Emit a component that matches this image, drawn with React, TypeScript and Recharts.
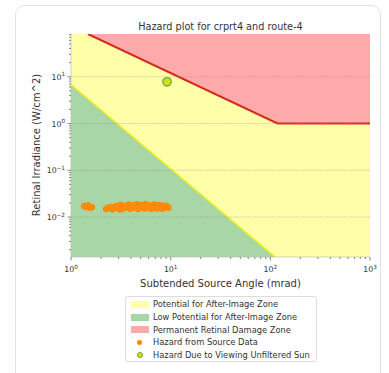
import React from 'react';
import { ComposedChart, XAxis, YAxis, Area, Scatter, ReferenceArea, ReferenceLine } from 'recharts';

// ---------- data ----------
const X_MIN = 1;
const X_MAX = 1000;
const Y_MIN = 0.0014;
const Y_MAX = 82;

const xMajorTicks = [1, 10, 100, 1000];
const xMinorTicks = [2, 3, 4, 5, 6, 7, 8, 9, 20, 30, 40, 50, 60, 70, 80, 90, 200, 300, 400, 500, 600, 700, 800, 900];
const yMajorTicks = [0.01, 0.1, 1, 10];
const yMinorTicks = [0.002, 0.003, 0.004, 0.005, 0.006, 0.007, 0.008, 0.009, 0.02, 0.03, 0.04, 0.05, 0.06, 0.07, 0.08, 0.09, 0.2, 0.3, 0.4, 0.5, 0.6, 0.7, 0.8, 0.9, 2, 3, 4, 5, 6, 7, 8, 9, 20, 30, 40, 50, 60, 70, 80];

// permanent retinal damage boundary (red line)
const damageAngle = [1.48, 118, 1000];
const damageIrr = [82, 1, 1];

// after-image boundary (yellow line / green zone top)
const lowAngle = [1, 112];
const lowIrr = [6.8, 0.0014];

// hazard from source data
const hazardAngle = [1.36, 1.42, 1.48, 1.55, 1.62, 2.25, 2.4, 2.55, 2.7, 2.85, 3.0, 3.15, 3.3, 3.45, 3.6, 3.8, 4.0, 4.2, 4.4, 4.6, 4.85, 5.1, 5.35, 5.6, 5.9, 6.2, 6.5, 6.8, 7.1, 7.4, 7.7, 8.0, 8.3, 8.6, 8.9, 9.2, 9.5, 2.6, 3.1, 3.9, 4.7, 5.5, 6.4, 7.3, 8.2, 2.35, 2.9, 3.5, 4.3, 5.0, 5.8, 6.7, 7.6, 8.5, 9.0];
const hazardIrr = [0.0172, 0.0165, 0.0178, 0.0158, 0.0162, 0.0148, 0.0156, 0.0165, 0.0152, 0.0172, 0.0160, 0.0182, 0.0150, 0.0175, 0.0163, 0.0186, 0.0155, 0.0178, 0.0168, 0.0188, 0.0158, 0.0180, 0.0166, 0.0190, 0.0160, 0.0176, 0.0168, 0.0185, 0.0158, 0.0172, 0.0164, 0.0178, 0.0156, 0.0170, 0.0160, 0.0166, 0.0158, 0.0146, 0.0145, 0.0150, 0.0149, 0.0152, 0.0150, 0.0152, 0.0151, 0.0160, 0.0168, 0.0170, 0.0162, 0.0172, 0.0174, 0.0162, 0.0180, 0.0164, 0.0174];

// hazard due to viewing unfiltered sun
const sunAngle = [9.2];
const sunIrr = [7.8];

const damageData = damageAngle.map((a, i) => ({ a, v: damageIrr[i] }));
const lowData = lowAngle.map((a, i) => ({ a, v: lowIrr[i] }));
const hazardData = hazardAngle.map((a, i) => ({ a, e: hazardIrr[i] }));
const sunData = sunAngle.map((a, i) => ({ a, e: sunIrr[i] }));

const FONT = '"DejaVu Sans", sans-serif';
const TEXT = '#333';

const expLabel = (v: number) => {
  const e = Math.round(Math.log10(v));
  return e < 0 ? '\u2212' + Math.abs(e) : String(e);
};

const XTick = (props: any) => {
  const { x, y, payload } = props;
  const v = payload.value;
  const major = xMajorTicks.includes(v);
  const len = major ? 3.5 : 2;
  return (
    <g>
      <line x1={x} x2={x} y1={y} y2={y + len} stroke="#555" strokeWidth={0.7} />
      {major && (
        <text x={x} y={y + 15} textAnchor="middle" fontFamily={FONT} fontSize={7.8} fill={TEXT}>
          10<tspan dy={-3.5} fontSize={5.7}>{expLabel(v)}</tspan>
        </text>
      )}
    </g>
  );
};

const YTick = (props: any) => {
  const { x, y, payload } = props;
  const v = payload.value;
  const major = yMajorTicks.some((m) => Math.abs(m - v) / m < 1e-6);
  const len = major ? 3.5 : 2;
  return (
    <g>
      <line x1={x - len} x2={x} y1={y} y2={y} stroke="#555" strokeWidth={0.7} />
      {major && (
        <text x={x - 6} y={y + 3} textAnchor="end" fontFamily={FONT} fontSize={7.8} fill={TEXT}>
          10<tspan dy={-3.5} fontSize={5.7}>{expLabel(v)}</tspan>
        </text>
      )}
    </g>
  );
};

const SunDot = (props: any) => {
  const { cx, cy } = props;
  return <circle cx={cx} cy={cy} r={4.2} fill="#d0e01c" stroke="#72a836" strokeWidth={1.3} />;
};

const HazardDot = (props: any) => {
  const { cx, cy } = props;
  return <circle cx={cx} cy={cy} r={3.3} fill="#ff8a0a" />;
};

const legendItems = [
  { kind: 'patch', color: '#ffffaa', label: 'Potential for After-Image Zone' },
  { kind: 'patch', color: '#a9d6a6', label: 'Low Potential for After-Image Zone' },
  { kind: 'patch', color: '#ffaaaa', label: 'Permanent Retinal Damage Zone' },
  { kind: 'dot', color: '#ff8a0a', label: 'Hazard from Source Data' },
  { kind: 'sun', color: '#d0e01c', label: 'Hazard Due to Viewing Unfiltered Sun' },
];

export default function App() {
  return (
    <div style={{ position: 'absolute', left: 0, top: 0, width: 389, height: 373, background: '#fff', overflow: 'hidden', fontFamily: FONT }}>
      <div style={{ position: 'absolute', left: 15, top: 5, width: 364, height: 390, border: '1px solid #e2e2e2', borderRadius: 10 }} />
      <div style={{ position: 'absolute', left: 71, width: 299, top: 21, height: 12, lineHeight: '12px', textAlign: 'center', fontSize: 9.7, color: TEXT, whiteSpace: 'nowrap' }}>
        Hazard plot for crprt4 and route-4
      </div>
      <div style={{ position: 'absolute', left: 71, width: 299, top: 278, height: 12, lineHeight: '12px', textAlign: 'center', fontSize: 10, color: TEXT, whiteSpace: 'nowrap' }}>
        Subtended Source Angle (mrad)
      </div>
      <div style={{ position: 'absolute', left: 37 - 100, top: 145 - 6, width: 200, height: 12, lineHeight: '12px', textAlign: 'center', fontSize: 10, color: TEXT, whiteSpace: 'nowrap', transform: 'rotate(-90deg)' }}>
        Retinal Irradiance (W/cm^2)
      </div>
      <div style={{ position: 'absolute', left: 0, top: 0 }}>
        <ComposedChart width={389} height={373} margin={{ top: 34, right: 19, bottom: 96, left: 31 }}>
          <XAxis
            dataKey="a"
            type="number"
            scale="log"
            domain={[X_MIN, X_MAX]}
            allowDataOverflow
            ticks={[...xMajorTicks, ...xMinorTicks].sort((p, q) => p - q)}
            interval={0}
            tick={<XTick />}
            tickSize={0}
            tickMargin={0}
            height={20}
            axisLine={{ stroke: '#bbb', strokeWidth: 0.7 }}
          />
          <YAxis
            dataKey="e"
            type="number"
            scale="log"
            domain={[Y_MIN, Y_MAX]}
            allowDataOverflow
            ticks={[...yMajorTicks, ...yMinorTicks].sort((p, q) => p - q)}
            interval={0}
            tick={<YTick />}
            tickSize={0}
            tickMargin={0}
            width={40}
            axisLine={{ stroke: '#bbb', strokeWidth: 0.7 }}
          />
          <ReferenceArea x1={X_MIN} x2={X_MAX} y1={Y_MIN} y2={Y_MAX} fill="#ffffaa" fillOpacity={1} stroke="none" ifOverflow="hidden" />
          <Area
            data={lowData}
            dataKey="v"
            type="linear"
            fill="#a9d6a6"
            fillOpacity={1}
            stroke="#f2f21a"
            strokeWidth={1.6}
            isAnimationActive={false}
            dot={false}
            activeDot={false}
          />
          <Area
            data={damageData}
            dataKey="v"
            type="linear"
            baseValue="dataMax"
            fill="#ffaaaa"
            fillOpacity={1}
            stroke="#d42a1e"
            strokeWidth={2}
            isAnimationActive={false}
            dot={false}
            activeDot={false}
          />
          {yMajorTicks.map((t) => (
            <ReferenceLine key={t} y={t} stroke="#888" strokeOpacity={0.45} strokeWidth={0.8} strokeDasharray="2 1" />
          ))}
          <Scatter data={hazardData} dataKey="e" shape={<HazardDot />} isAnimationActive={false} />
          <Scatter data={sunData} dataKey="e" shape={<SunDot />} isAnimationActive={false} />
        </ComposedChart>
      </div>
      <div style={{ position: 'absolute', left: 125, top: 296, width: 192, height: 66, border: '1px solid #ddd', borderRadius: 3, background: '#fff', boxSizing: 'border-box', padding: '1px 0 0 0' }}>
        {legendItems.map((it) => (
          <div key={it.label} style={{ height: 12.7, display: 'flex', alignItems: 'center', fontSize: 8.3, color: TEXT, whiteSpace: 'nowrap' }}>
            <div style={{ width: 27, display: 'flex', justifyContent: 'center', alignItems: 'center' }}>
              {it.kind === 'patch' && <div style={{ width: 18, height: 7, background: it.color }} />}
              {it.kind === 'dot' && <div style={{ width: 5, height: 5, borderRadius: 3, background: it.color }} />}
              {it.kind === 'sun' && <div style={{ width: 4, height: 4, borderRadius: 4, background: it.color, border: '1.3px solid #72a836' }} />}
            </div>
            <span>{it.label}</span>
          </div>
        ))}
      </div>
    </div>
  );
}
